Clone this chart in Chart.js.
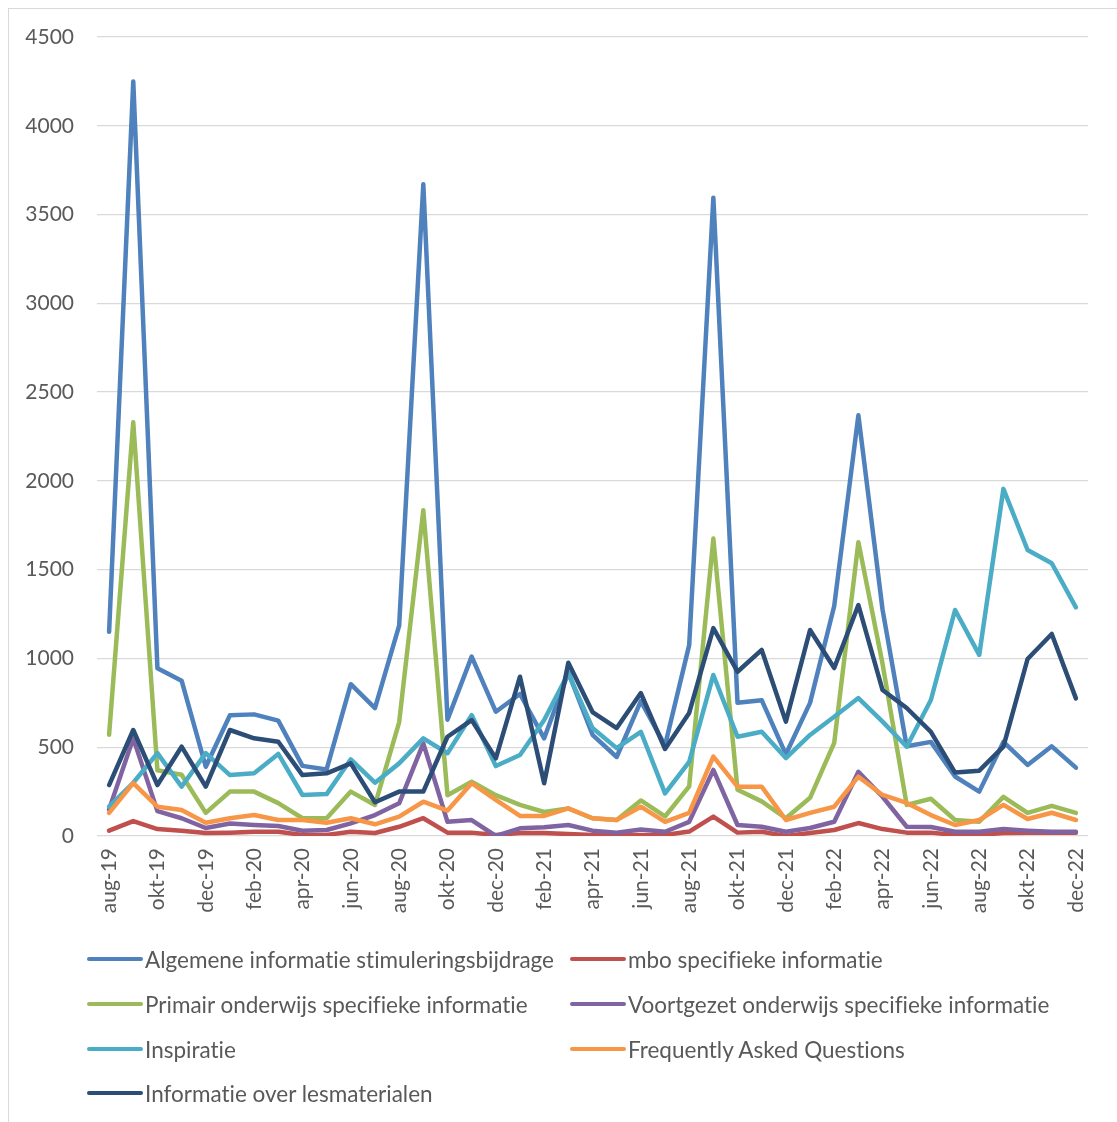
<!DOCTYPE html>
<html>
<head>
<meta charset="utf-8">
<script src="https://cdn.jsdelivr.net/npm/chart.js@4/dist/chart.umd.min.js"></script>
<style>
  html, body { margin: 0; padding: 0; background: #fff; }
  #frame { position: absolute; left: 8px; top: 8px; width: 1120px; height: 1125px; border: 1px solid #d9d9d9; box-sizing: border-box; }
  #wrap { position: absolute; left: 0; top: 0; width: 1117px; height: 930px; }
  #legend { position: absolute; left: 0; top: 0; width: 1117px; height: 1122px; pointer-events: none; font-family: Lato, "Open Sans", sans-serif; font-size: 22.5px; color: #595959; font-variant-ligatures: none; font-feature-settings: "liga" 0; }
  .item { position: absolute; display: flex; align-items: center; height: 30px; white-space: nowrap; }
  .swatch { width: 56px; height: 4.5px; border-radius: 3px; margin-right: 2px; }
</style>
</head>
<body>
<div id="frame"></div>
<div id="wrap"><canvas id="c"></canvas></div>
<div id="legend"></div>
<script>
const months = ['aug-19','sep-19','okt-19','nov-19','dec-19','jan-20','feb-20','mrt-20','apr-20','mei-20','jun-20','jul-20','aug-20','sep-20','okt-20','nov-20','dec-20','jan-21','feb-21','mrt-21','apr-21','mei-21','jun-21','jul-21','aug-21','sep-21','okt-21','nov-21','dec-21','jan-22','feb-22','mrt-22','apr-22','mei-22','jun-22','jul-22','aug-22','sep-22','okt-22','nov-22','dec-22'];

const algemene = [1150,4250,945,875,390,680,685,650,395,375,855,720,1185,3670,655,1010,700,800,550,920,570,445,760,510,1075,3595,750,765,460,750,1295,2370,1275,505,530,335,250,530,400,505,385];
const mbo = [30,84,39,30,17,19,24,24,6,6,24,17,52,100,19,19,6,17,17,11,6,6,6,6,25,109,19,24,0,17,34,73,39,19,19,6,6,17,19,19,19];
const primair = [570,2330,370,345,130,250,250,185,100,100,250,175,640,1835,230,305,230,175,135,155,100,90,200,110,280,1675,260,195,100,215,525,1655,970,175,210,90,80,220,130,170,130];
const voortgezet = [150,550,140,100,45,70,62,56,30,34,71,118,184,522,80,90,0,43,49,62,30,19,37,24,80,372,62,52,24,45,80,362,221,52,51,24,24,39,30,24,24];
const inspiratie = [165,300,467,278,467,343,353,462,231,236,432,300,409,550,466,681,394,456,653,916,608,495,587,240,418,907,559,587,439,569,672,777,644,503,766,1273,1020,1955,1611,1536,1288];
const faq = [130,298,165,146,75,100,118,90,90,75,100,66,109,193,143,297,203,113,113,156,100,90,165,80,130,447,278,278,90,130,165,334,231,186,118,62,90,175,96,131,90];
const lesmaterialen = [287,597,287,503,278,597,550,531,343,353,409,190,250,250,559,653,437,897,297,976,698,608,805,490,693,1171,925,1048,644,1160,946,1301,822,721,587,357,368,503,997,1138,775];

const seriesNames = ['Algemene informatie stimuleringsbijdrage','mbo specifieke informatie','Primair onderwijs specifieke informatie','Voortgezet onderwijs specifieke informatie','Inspiratie','Frequently Asked Questions','Informatie over lesmaterialen'];
const seriesData = [algemene, mbo, primair, voortgezet, inspiratie, faq, lesmaterialen];
const seriesColors = ['#4F81BD','#C0504D','#9BBB59','#8064A2','#4BACC6','#F79646','#2C4D75'];

const yTicks = [0,500,1000,1500,2000,2500,3000,3500,4000,4500];

const FONT = 'Lato, "Open Sans", sans-serif';

const datasets = seriesNames.map((n, i) => ({
  label: n,
  data: seriesData[i],
  borderColor: seriesColors[i],
  backgroundColor: seriesColors[i],
  borderWidth: 4.5,
  pointRadius: 0,
  pointHoverRadius: 0,
  tension: 0,
  fill: false,
  borderCapStyle: 'round',
  borderJoinStyle: 'round',
  order: seriesNames.length - i
}));

const canvas = document.getElementById('c');
canvas.width = 1117; canvas.height = 930;
canvas.style.width = '1117px'; canvas.style.height = '930px';

const chart = new Chart(canvas, {
  type: 'line',
  data: { labels: months, datasets },
  options: {
    responsive: false,
    animation: false,
    devicePixelRatio: 1,
    layout: { padding: { top: 37, right: 29, bottom: 0, left: 0 } },
    plugins: { legend: { display: false }, tooltip: { enabled: false } },
    scales: {
      x: {
        offset: true,
        grid: { display: false, drawTicks: false },
        border: { display: false },
        ticks: {
          autoSkip: false,
          maxRotation: 90,
          minRotation: 90,
          padding: 12,
          color: '#595959',
          font: { family: FONT, size: 21 },
          callback: function(v, i) { return i % 2 === 0 ? months[i] : ''; }
        },
        afterFit: function(s) { s.height = 94; }
      },
      y: {
        min: yTicks[0],
        max: yTicks[yTicks.length - 1],
        afterBuildTicks: function(s) { s.ticks = yTicks.map(v => ({ value: v })); },
        grid: { color: '#d9d9d9', lineWidth: 1.3, drawTicks: false },
        border: { display: false },
        ticks: {
          padding: 23,
          color: '#595959',
          font: { family: FONT, size: 21 },
          callback: function(v) { return String(v); }
        },
        afterFit: function(s) { s.width = 97; }
      }
    }
  }
});

// HTML legend built from the chart's datasets, two columns
const legendEl = document.getElementById('legend');
const rowY = [959, 1004, 1049, 1093];
const colX = [87, 570];
chart.data.datasets.forEach((ds, i) => {
  const item = document.createElement('div');
  item.className = 'item';
  item.style.left = colX[i % 2] + 'px';
  item.style.top = (rowY[Math.floor(i / 2)] - 15) + 'px';
  const sw = document.createElement('div');
  sw.className = 'swatch';
  sw.style.background = ds.borderColor;
  const tx = document.createElement('span');
  tx.textContent = ds.label;
  item.appendChild(sw); item.appendChild(tx);
  legendEl.appendChild(item);
});
</script>
</body>
</html>
